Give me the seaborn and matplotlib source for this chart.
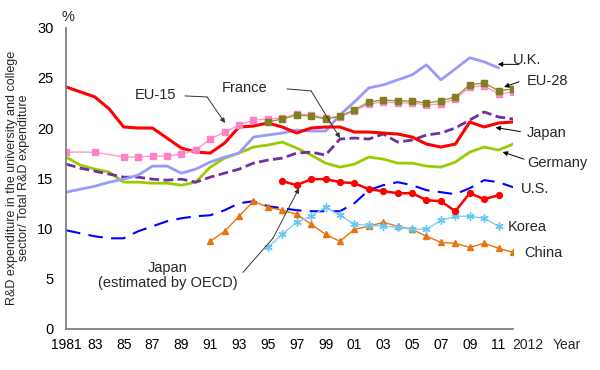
import numpy as np
import pandas as pd
import matplotlib
matplotlib.use('Agg')
import matplotlib.pyplot as plt
from matplotlib.markers import MarkerStyle
import seaborn as sns

# Dane: udział sektora szkół wyższych w całkowitych wydatkach na B+R (%)
years_all = list(range(1981, 2013))

japan_years = years_all
japan = [24.1, 23.6, 23.1, 21.9, 20.1, 20.0, 20.0, 19.0, 18.0, 17.6, 17.5, 18.5,
         20.1, 20.2, 20.5, 20.1, 19.5, 20.0, 20.1, 20.1, 19.6, 19.6, 19.5, 19.4,
         19.1, 18.4, 18.1, 18.4, 20.6, 20.1, 20.5, 20.6]

eu15_years = [1981, 1983] + list(range(1985, 2013))
eu15 = [17.6, 17.6, 17.1, 17.1, 17.2, 17.2, 17.4, 17.8, 18.9, 19.6, 20.3, 20.8,
        20.9, 21.0, 21.4, 21.3, 21.0, 21.1, 21.7, 22.4, 22.6, 22.5, 22.5, 22.3,
        22.4, 22.9, 24.1, 24.2, 23.4, 23.6]

eu28_years = list(range(1995, 2013))
eu28 = [20.6, 20.9, 21.3, 21.2, 20.9, 21.2, 21.8, 22.6, 22.8, 22.7, 22.7, 22.5,
        22.7, 23.1, 24.3, 24.5, 23.7, 23.9]

uk_years = list(range(1981, 2012))
uk = [13.6, 13.9, 14.2, 14.6, 14.9, 15.3, 16.2, 16.2, 15.5, 15.9, 16.6, 17.1,
      17.5, 19.1, 19.3, 19.5, 19.8, 19.7, 19.7, 21.3, 22.6, 24.0, 24.3, 24.8,
      25.3, 26.3, 24.8, 25.9, 27.0, 26.6, 26.0]

germany_years = years_all
germany = [17.1, 16.3, 15.9, 15.6, 14.6, 14.6, 14.5, 14.5, 14.3, 14.6, 16.1, 17.0,
           17.5, 18.1, 18.3, 18.6, 18.0, 17.3, 16.5, 16.1, 16.4, 17.1, 16.9, 16.5,
           16.5, 16.2, 16.1, 16.6, 17.6, 18.1, 17.8, 18.4]

france_years = years_all
france = [16.4, 16.0, 15.7, 15.4, 15.1, 15.1, 14.9, 14.8, 14.9, 14.6, 15.1, 15.5,
          15.9, 16.5, 16.8, 17.0, 17.5, 17.6, 17.3, 18.9, 19.0, 18.9, 19.4, 18.6,
          18.8, 19.3, 19.5, 20.0, 20.8, 21.6, 21.1, 20.9]

us_years = years_all
us = [9.8, 9.5, 9.2, 9.0, 9.0, 9.7, 10.2, 10.7, 11.0, 11.2, 11.3, 11.8,
      12.5, 12.7, 12.2, 12.0, 11.8, 11.7, 11.7, 11.7, 12.5, 13.8, 14.3, 14.6,
      14.3, 13.8, 13.6, 13.4, 14.0, 14.8, 14.6, 14.1]

japan_oecd_years = list(range(1996, 2012))
japan_oecd = [14.7, 14.3, 14.9, 14.9, 14.6, 14.5, 13.9, 13.7, 13.5, 13.5, 12.8, 12.7,
              11.7, 13.5, 12.9, 13.3]

korea_years = list(range(1995, 2012))
korea = [8.1, 9.4, 10.6, 11.2, 12.1, 11.3, 10.4, 10.3, 10.2, 10.1, 9.9, 9.9,
         10.8, 11.2, 11.2, 11.0, 10.2]

china_years = list(range(1991, 2013))
china = [8.7, 9.7, 11.2, 12.7, 12.1, 11.8, 11.4, 10.4, 9.4, 8.7, 9.9, 10.2,
         10.6, 10.2, 9.9, 9.2, 8.6, 8.5, 8.1, 8.5, 8.0, 7.6]

x_tick_labels = ['1981', '83', '85', '87', '89', '91', '93', '95', '97', '99',
                 '01', '03', '05', '07', '09', '11']

sns.set_theme(style='white')
plt.rcParams['font.family'] = ['Liberation Sans', 'DejaVu Sans']

fig = plt.figure(figsize=(6, 3.7), dpi=100)
ax = fig.add_axes([0.11, 0.112, 0.745, 0.813])

asterisk = MarkerStyle((6, 2, 0))

# Styl serii: (lata, wartości, kolor linii, grubość, styl linii, marker, rozmiar, kolor markera)
series = [
    (us_years, us, '#0000FF', 1.5, (0, (7, 4)), None, 0, None),
    (china_years, china, '#E8730F', 1.0, '-', '^', 4, '#E8730F'),
    (korea_years, korea, '#7FD0F5', 1.0, '-', asterisk, 6, '#66C8F0'),
    (japan_oecd_years, japan_oecd, '#FF0000', 1.8, '-', 'o', 4.2, '#FF0000'),
    (germany_years, germany, '#99CC00', 2.0, '-', None, 0, None),
    (france_years, france, '#7030A0', 2.0, (0, (3.5, 1.6)), None, 0, None),
    (uk_years, uk, '#9999FF', 2.0, '-', None, 0, None),
    (japan_years, japan, '#FF0000', 2.2, '-', None, 0, None),
    (eu15_years, eu15, '#FF99CC', 1.0, '-', 's', 4, '#FF80C8'),
    (eu28_years, eu28, '#999933', 1.0, '-', 's', 4.2, '#7F7F1F'),
]

for yrs, vals, color, lw, ls, marker, ms, mcolor in series:
    df = pd.DataFrame({'year': yrs, 'value': vals})
    line_ax = sns.lineplot(data=df, x='year', y='value', ax=ax, color=color,
                           linewidth=lw)
    line = line_ax.get_lines()[-1]
    line.set_linestyle(ls)
    if marker is not None:
        line.set_marker(marker)
        line.set_markersize(ms)
        line.set_markerfacecolor(mcolor)
        line.set_markeredgecolor(mcolor)
        line.set_markeredgewidth(1.0)

ax.set_xlim(1981, 2012)
ax.set_ylim(0, 30)
ax.set_yticks(range(0, 31, 5))
ax.set_xticks(years_all)
labels = []
for y in years_all:
    if y % 2 == 1 and y <= 2011:
        labels.append(x_tick_labels[(y - 1981) // 2])
    else:
        labels.append('')
ax.set_xticklabels(labels)
ax.tick_params(axis='both', direction='in', colors='#808080', labelcolor='black',
               labelsize=10, width=1)
ax.tick_params(axis='x', length=3, pad=7)
ax.tick_params(axis='y', length=4, pad=9, labelsize=10.5)
for s in ['top', 'right']:
    ax.spines[s].set_visible(False)
for s in ['left', 'bottom']:
    ax.spines[s].set_color('#808080')
    ax.spines[s].set_linewidth(1.3)
ax.set_xlabel('')
ax.set_ylabel('')

trans = ax.get_xaxis_transform()
ax.text(2013.05, -0.03, '2012', transform=trans, ha='center', va='top', fontsize=10)
ax.text(2015.75, -0.03, 'Year', transform=trans, ha='center', va='top', fontsize=10)
fig.text(68 / 600, 1 - 17 / 370, '%', ha='center', va='center', fontsize=10.5)
fig.text(18 / 600, 1 - 178 / 370,
         'R&D expenditure in the university and college\nsector/ Total R&D expenditure',
         rotation=90, ha='center', va='center', fontsize=9, linespacing=1.1)

# Etykiety serii po prawej stronie
fs = 10.5
ax.text(2012.0, 26.8, 'U.K.', fontsize=fs, va='center', ha='left')
ax.text(2012.97, 24.7, 'EU-28', fontsize=fs, va='center', ha='left')
ax.text(2012.97, 19.5, 'Japan', fontsize=fs, va='center', ha='left')
ax.text(2013.0, 16.5, 'Germany', fontsize=fs, va='center', ha='left')
ax.text(2012.55, 13.9, 'U.S.', fontsize=fs, va='center', ha='left')
ax.text(2011.65, 10.1, 'Korea', fontsize=fs, va='center', ha='left')
ax.text(2012.8, 7.5, 'China', fontsize=fs, va='center', ha='left')
ax.text(1985.8, 23.3, 'EU-15', fontsize=fs, va='center', ha='left')
ax.text(1991.8, 24.0, 'France', fontsize=fs, va='center', ha='left')
ax.text(1988.07, 5.3, 'Japan\n(estimated by OECD)', fontsize=fs, va='center',
        ha='center', linespacing=1.15)

arrow = dict(arrowstyle='-|>', color='black', lw=0.7, mutation_scale=7)
for start, end in [((2012.6, 26.35), (2010.75, 26.35)),
                   ((2012.6, 24.7), (2011.2, 24.0)),
                   ((2012.7, 19.6), (2010.6, 20.1)),
                   ((2012.95, 16.8), (2011.1, 17.7))]:
    ax.annotate('', xy=end, xytext=start, arrowprops=arrow, annotation_clip=False)

# Łamane strzałki (EU-15, France, Japan OECD)
for pts in [[(1989.25, 23.2), (1990.78, 23.1), (1992.03, 20.5)],
            [(1996.33, 23.9), (1998.0, 23.7), (2000.0, 19.0)],
            [(1993.27, 5.6), (1995.35, 9.0), (1997.16, 14.0)]]:
    ax.plot([pts[0][0], pts[1][0]], [pts[0][1], pts[1][1]], color='#333333', lw=0.7)
    ax.annotate('', xy=pts[2], xytext=pts[1],
                arrowprops=dict(arrowstyle='-|>', color='#333333', lw=0.7,
                                mutation_scale=7, shrinkA=0, shrinkB=0))

fig.savefig('out.png', dpi=100)
